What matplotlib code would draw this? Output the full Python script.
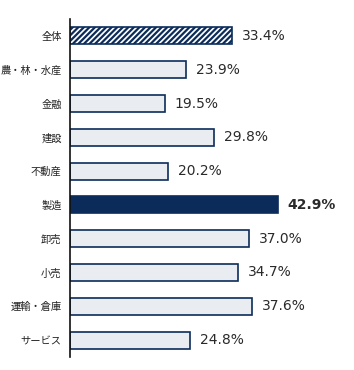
import matplotlib.pyplot as plt

plt.rcParams['font.family'] = ['Noto Sans CJK JP', 'DejaVu Sans']

categories = ["全体", "農・林・水産", "金融", "建設", "不動産", "製造", "卸売", "小売", "運輸・倉庫", "サービス"]
values = [33.4, 23.9, 19.5, 29.8, 20.2, 42.9, 37.0, 34.7, 37.6, 24.8]
highlight = "製造"
overall = "全体"

navy = "#0b2c5a"
light = "#e9edf1"

plt.rcParams['hatch.color'] = navy
plt.rcParams['hatch.linewidth'] = 1.6

fig = plt.figure(figsize=(3.54, 3.70), dpi=100)
ax = fig.add_axes([70 / 354, 13 / 370, 284 / 354, 338 / 370])

y = list(range(len(categories)))
for yi, cat, v in zip(y, categories, values):
    if cat == highlight:
        ax.barh(yi, v, height=0.5, color=navy, edgecolor=navy, linewidth=1.2)
    elif cat == overall:
        ax.barh(yi, v, height=0.5, color="white", edgecolor=navy, hatch="/" * 6, linewidth=1.2)
    else:
        ax.barh(yi, v, height=0.5, color=light, edgecolor=navy, linewidth=1.2)
    ax.text(v + 2.0, yi, f"{v:.1f}%", va="center", ha="left", fontsize=10,
            color="#2a2a2a", fontweight="bold" if cat == highlight else "normal",
            family=["DejaVu Sans"])

ax.set_xlim(0, 58.6)
ax.set_ylim(len(categories) - 0.5, -0.5)
ax.set_yticks(y)
ax.set_yticklabels(categories, fontsize=7.4, color="#222222")
ax.tick_params(axis="y", length=0, pad=6)
ax.set_xticks([])
for side in ["top", "right", "bottom"]:
    ax.spines[side].set_visible(False)
ax.spines["left"].set_color("#111111")
ax.spines["left"].set_linewidth(1.2)

fig.savefig("out.png", dpi=100)
